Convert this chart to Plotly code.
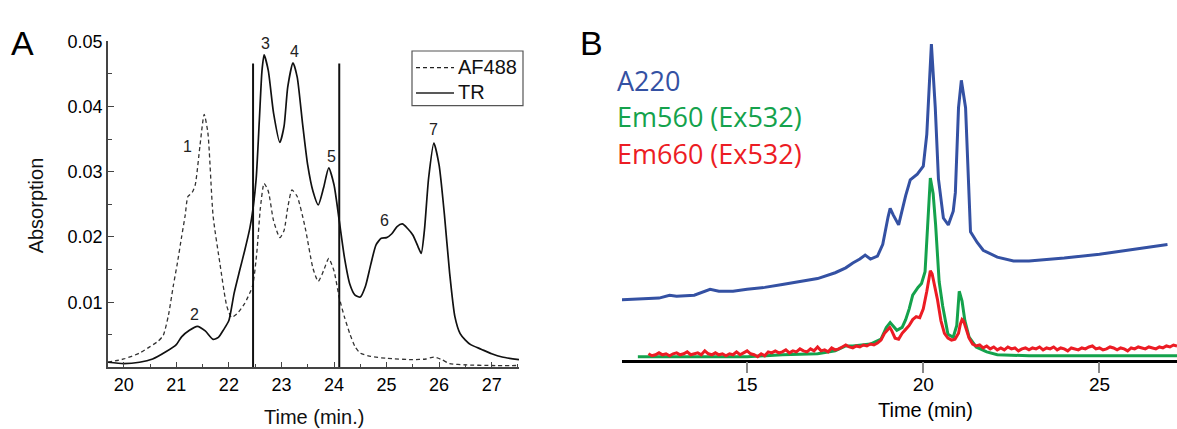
import plotly.graph_objects as go

# ---------------- Panel A: absorption chromatograms ----------------
tr_time = [19.7, 20.0, 20.3, 20.55, 20.8, 21.0, 21.1, 21.25, 21.4, 21.55, 21.7, 21.8, 21.9,
           22.0, 22.1, 22.2, 22.3, 22.4, 22.46, 22.52, 22.58, 22.63, 22.67, 22.75, 22.85,
           22.97, 23.05, 23.12, 23.22, 23.3, 23.4, 23.5, 23.6, 23.7, 23.8, 23.9, 24.0, 24.1,
           24.2, 24.3, 24.4, 24.5, 24.6, 24.7, 24.8, 24.9, 25.0, 25.1, 25.2, 25.3, 25.4, 25.5,
           25.6, 25.66, 25.72, 25.8, 25.9, 26.0, 26.1, 26.2, 26.3, 26.4, 26.5, 26.6, 26.8,
           27.0, 27.2, 27.52]
tr_abs = [0.0008, 0.0006, 0.0008, 0.0013, 0.0024, 0.0035, 0.0047, 0.0057, 0.0063, 0.0056,
          0.0043, 0.0046, 0.0058, 0.0072, 0.0114, 0.0147, 0.0179, 0.0214, 0.0244, 0.029,
          0.038, 0.0455, 0.0479, 0.0455, 0.039, 0.0345, 0.037, 0.043, 0.0467, 0.0445, 0.0375,
          0.031, 0.027, 0.0249, 0.0275, 0.0306, 0.028, 0.0225, 0.0168, 0.0128, 0.0111, 0.0108,
          0.0125, 0.0158, 0.0188, 0.0198, 0.0199, 0.0205, 0.0216, 0.022, 0.0213, 0.0203,
          0.0185, 0.0175, 0.021, 0.029, 0.0344, 0.031, 0.0235, 0.0145, 0.0078, 0.0052, 0.0042,
          0.0035, 0.0028, 0.0021, 0.0016, 0.0012]

af_time = [19.7, 20.0, 20.3, 20.5, 20.65, 20.75, 20.85, 20.94, 21.02, 21.1, 21.17, 21.22,
           21.3, 21.36, 21.45, 21.53, 21.6, 21.7, 21.83, 21.96, 22.05, 22.15, 22.3, 22.45,
           22.53, 22.6, 22.67, 22.75, 22.85, 22.97, 23.05, 23.12, 23.2, 23.3, 23.45, 23.6,
           23.7, 23.8, 23.9, 24.0, 24.1, 24.2, 24.3, 24.4, 24.5, 24.7, 25.0, 25.5, 25.75,
           25.9, 26.05, 26.2, 26.5, 27.0, 27.52]
af_abs = [0.0008, 0.0013, 0.0022, 0.0032, 0.004, 0.0049, 0.008, 0.0124, 0.016, 0.02, 0.0234,
          0.0262, 0.0268, 0.028, 0.034, 0.0388, 0.036, 0.0232, 0.0159, 0.0094, 0.0077, 0.0082,
          0.0098, 0.0125, 0.0175, 0.0245, 0.0282, 0.027, 0.0225, 0.0199, 0.021, 0.0245, 0.0272,
          0.0262, 0.0215, 0.0152, 0.0132, 0.0148, 0.0167, 0.0148, 0.0107, 0.0077, 0.0052,
          0.0032, 0.0022, 0.0017, 0.0014, 0.0012, 0.0013, 0.0016, 0.0012, 0.0006, 0.0004,
          0.0003, 0.0003]

# fraction collection window
cut_times = [22.46, 24.1]
cut_top = 0.0466

peak_ids = ["1", "2", "3", "4", "5", "6", "7"]
peak_label_t = [21.22, 21.35, 22.69, 23.24, 23.96, 24.97, 25.9]
peak_label_y = [0.0338, 0.0081, 0.0497, 0.0485, 0.0324, 0.0226, 0.0364]

legend_a_names = ["AF488", "TR"]

# ---------------- Panel B: A220 and fluorescence traces ----------------
a220_time = [11.28, 12.0, 12.5, 12.8, 13.0, 13.5, 13.95, 14.2, 14.6, 15.0, 15.5, 16.0, 16.5,
             17.0, 17.5, 17.8, 18.0, 18.2, 18.35, 18.5, 18.7, 18.85, 19.0, 19.06, 19.15,
             19.3, 19.5, 19.63, 19.83, 20.0, 20.1, 20.23, 20.34, 20.43, 20.57, 20.71, 20.85,
             20.91, 21.0, 21.08, 21.2, 21.3, 21.34, 21.53, 21.7, 22.1, 22.56, 23.0, 24.0,
             25.0, 26.0, 26.93]
a220_val = [61, 62, 63, 66, 65, 66, 72, 70, 70, 72, 74, 77, 80, 83, 89, 94, 99, 103, 107,
            103, 106, 118, 146, 155, 148, 138, 168, 184, 190, 198, 231, 323, 258, 185, 145,
            138, 152, 171, 258, 286, 258, 158, 131, 120, 112, 105, 101, 101, 104, 108, 113,
            118]

em560_time = [11.9, 13.0, 14.0, 15.0, 16.0, 17.0, 17.5, 17.8, 18.0, 18.5, 18.8, 18.95, 19.06,
              19.15, 19.25, 19.4, 19.5, 19.6, 19.7, 19.85, 19.95, 20.05, 20.12, 20.2, 20.28,
              20.35, 20.45, 20.55, 20.7, 20.85, 20.95, 21.02, 21.1, 21.18, 21.3, 21.5, 21.8,
              22.1, 23.0, 25.0, 27.2]
em560_val = [3, 3, 3, 3, 5, 6, 9, 14, 14, 16, 21, 33, 38, 34, 30, 33, 41, 52, 66, 74, 78, 90,
             130, 186, 170, 138, 80, 55, 26, 23, 35, 70, 60, 40, 23, 13, 8, 5, 4, 4, 4]

em660_time = [12.2, 12.3, 12.4, 12.5, 12.6, 12.7, 12.8, 12.9, 13.0, 13.1, 13.2, 13.3, 13.4,
              13.5, 13.6, 13.7, 13.8, 13.9, 14.0, 14.1, 14.2, 14.3, 14.4, 14.5, 14.6, 14.7,
              14.8, 14.9, 15.0, 15.1, 15.2, 15.3, 15.4, 15.5, 15.6, 15.7, 15.8, 15.9, 16.0,
              16.1, 16.2, 16.3, 16.4, 16.5, 16.6, 16.7, 16.8, 16.9, 17.0, 17.1, 17.2, 17.3,
              17.4, 17.5, 17.6, 17.7, 17.8, 17.9, 18.0, 18.1, 18.2, 18.3, 18.4, 18.5, 18.6,
              18.7, 18.8, 18.9, 19.0, 19.05, 19.1, 19.2, 19.3, 19.4, 19.5, 19.6, 19.7, 19.8,
              19.9, 20.0, 20.1, 20.2, 20.25, 20.3, 20.4, 20.5, 20.6, 20.7, 20.8, 20.9, 21.0,
              21.05, 21.1, 21.15, 21.2, 21.3, 21.4, 21.5, 21.6, 21.7, 21.8, 21.9, 22.0, 22.1,
              22.2, 22.3, 22.4, 22.5, 22.6, 22.7, 22.8, 22.9, 23.0, 23.1, 23.2, 23.3, 23.4,
              23.5, 23.6, 23.7, 23.8, 23.9, 24.0, 24.1, 24.2, 24.3, 24.4, 24.5, 24.6, 24.7,
              24.8, 24.9, 25.0, 25.1, 25.2, 25.3, 25.4, 25.5, 25.6, 25.7, 25.8, 25.9, 26.0,
              26.1, 26.2, 26.3, 26.4, 26.5, 26.6, 26.7, 26.8, 26.9, 27.0, 27.1, 27.2]
em660_val = [6, 4, 5, 7, 5, 6, 4, 6, 7, 5, 6, 8, 5, 6, 7, 5, 9, 6, 5, 7, 5, 6, 4, 6, 5, 8,
             5, 7, 9, 6, 5, 3, 6, 4, 8, 7, 9, 7, 8, 10, 7, 9, 8, 11, 9, 8, 11, 9, 13, 9, 10,
             8, 12, 10, 11, 13, 15, 13, 12, 14, 13, 15, 14, 16, 15, 17, 20, 27, 31, 33, 30,
             22, 21, 27, 31, 35, 41, 44, 43, 52, 70, 91, 88, 80, 62, 40, 27, 22, 20, 21, 27,
             36, 41, 39, 33, 22, 16, 14, 15, 12, 14, 11, 13, 10, 12, 10, 13, 11, 12, 9, 11,
             12, 10, 12, 11, 13, 10, 12, 11, 13, 10, 12, 11, 9, 12, 11, 10, 12, 11, 13, 14,
             11, 12, 10, 11, 13, 12, 10, 12, 11, 9, 12, 11, 13, 12, 11, 13, 12, 11, 13, 12,
             14, 13, 15, 14]

trace_names_b = ["A220", "Em560 (Ex532)", "Em660 (Ex532)"]
trace_colors_b = ["#3451a3", "#14a24c", "#ec1c24"]

AX_FONT = "Liberation Sans, Arial, sans-serif"
LEG_FONT = "Open Sans, Noto Sans, sans-serif"
W, H = 1177, 429


def px(x):
    return x / W


def py(y):
    return 1 - y / H


fig = go.Figure()

# Panel A traces
DASH_A = "4px,3px"
fig.add_trace(go.Scatter(x=af_time, y=af_abs, mode="lines", name=legend_a_names[0],
                         line=dict(color="#333333", width=1.3, dash=DASH_A, shape="spline",
                                   smoothing=0.6),
                         showlegend=False, xaxis="x", yaxis="y"))
fig.add_trace(go.Scatter(x=tr_time, y=tr_abs, mode="lines", name=legend_a_names[1],
                         line=dict(color="#111111", width=1.7, shape="spline", smoothing=0.6),
                         showlegend=False, xaxis="x", yaxis="y"))
for ct in cut_times:
    fig.add_trace(go.Scatter(x=[ct, ct], y=[0, cut_top], mode="lines", showlegend=False,
                             line=dict(color="#111111", width=2), xaxis="x", yaxis="y"))

# Panel B traces
for t, v, nm, col in zip([a220_time, em560_time, em660_time],
                         [a220_val, em560_val, em660_val], trace_names_b, trace_colors_b):
    fig.add_trace(go.Scatter(x=t, y=v, mode="lines", name=nm, showlegend=False,
                             line=dict(color=col, width=3), xaxis="x2", yaxis="y2"))

# peak numbers
annotations = []
for pid, pt, pv in zip(peak_ids, peak_label_t, peak_label_y):
    annotations.append(dict(x=pt, y=pv, xref="x", yref="y", text=pid, showarrow=False,
                            font=dict(family=AX_FONT, size=16, color="#222222")))

# panel letters and axis titles
annotations += [
    dict(x=px(9), y=py(34), xref="paper", yref="paper", text="A", showarrow=False,
         xanchor="left", yanchor="middle", font=dict(family=AX_FONT, size=34, color="black")),
    dict(x=px(578), y=py(34), xref="paper", yref="paper", text="B", showarrow=False,
         xanchor="left", yanchor="middle", font=dict(family=AX_FONT, size=34, color="black")),
    dict(x=px(36), y=py(200), xref="paper", yref="paper", text="Absorption",
         showarrow=False, textangle=-90, xanchor="center", yanchor="middle",
         font=dict(family=AX_FONT, size=20, color="#111111")),
    dict(x=px(314), y=py(417), xref="paper", yref="paper", text="Time (min.)",
         showarrow=False, xanchor="center", yanchor="middle",
         font=dict(family=AX_FONT, size=20, color="#111111")),
    dict(x=px(925), y=py(410), xref="paper", yref="paper", text="Time (min)",
         showarrow=False, xanchor="center", yanchor="middle",
         font=dict(family=AX_FONT, size=20, color="black")),
]
for i, (nm, col) in enumerate(zip(trace_names_b, trace_colors_b)):
    annotations.append(dict(x=px(615), y=py(72 + 37.5 * i), xref="paper",
                            yref="paper", text=nm, showarrow=False, xanchor="left",
                            yanchor="middle", font=dict(family=LEG_FONT, size=27, color=col)))

# boxed key for panel A
legend_rows_y = [59, 85]
legend_dash = [DASH_A, "solid"]
shapes = [dict(type="rect", xref="paper", yref="paper", x0=px(412), x1=px(523),
               y0=py(98), y1=py(42), line=dict(color="#555555", width=1.2),
               fillcolor="white", layer="below")]
for ly, ld, nm in zip(legend_rows_y, legend_dash, legend_a_names):
    shapes.append(dict(type="line", xref="paper", yref="paper", x0=px(416), x1=px(454),
                       y0=py(ly), y1=py(ly), line=dict(color="#222222", width=1.4, dash=ld)))
    annotations.append(dict(x=px(456), y=py(ly - 1), xref="paper", yref="paper", text=nm,
                            showarrow=False, xanchor="left", yanchor="middle",
                            font=dict(family=AX_FONT, size=20, color="#111111")))

fig.update_layout(
    width=W, height=H,
    margin=dict(l=0, r=0, t=0, b=0),
    paper_bgcolor="white", plot_bgcolor="white",
    showlegend=False,
    annotations=annotations,
    shapes=shapes,
    xaxis=dict(domain=[px(108), px(519)], range=[19.7, 27.52], anchor="y",
               tickvals=[20, 21, 22, 23, 24, 25, 26, 27], ticks="inside", ticklen=6,
               tickcolor="#444444", showline=True, linecolor="#444444", linewidth=1.5,
               showgrid=False, zeroline=False,
               minor=dict(ticks="inside", ticklen=4, dtick=0.5, tick0=0.5,
                          tickcolor="#444444"),
               tickfont=dict(family=AX_FONT, size=18, color="black")),
    yaxis=dict(domain=[py(366), py(32)], range=[0, 0.05], anchor="x",
               tickvals=[0.01, 0.02, 0.03, 0.04, 0.05],
               ticktext=["0.01", "0.02", "0.03", "0.04", "0.05"],
               ticks="inside", ticklen=6, tickcolor="#444444", showline=True,
               linecolor="#444444", linewidth=1.5, showgrid=False, zeroline=False,
               minor=dict(ticks="inside", ticklen=4, dtick=0.005, tick0=0.005,
                          tickcolor="#444444"),
               tickfont=dict(family=AX_FONT, size=18, color="black")),
    xaxis2=dict(domain=[px(622), 1.0], range=[11.45, 27.2], anchor="y2",
                tickvals=[15, 20, 25], ticks="outside", ticklen=11, tickcolor="#888888",
                tickwidth=1.5, showline=True, linecolor="black", linewidth=2.5,
                showgrid=False, zeroline=False, ticklabelstandoff=-5,
                tickfont=dict(family=AX_FONT, size=19, color="black")),
    yaxis2=dict(domain=[py(358), py(30)], range=[0, 328], anchor="x2",
                visible=False),
)

fig.write_html("out.html")
